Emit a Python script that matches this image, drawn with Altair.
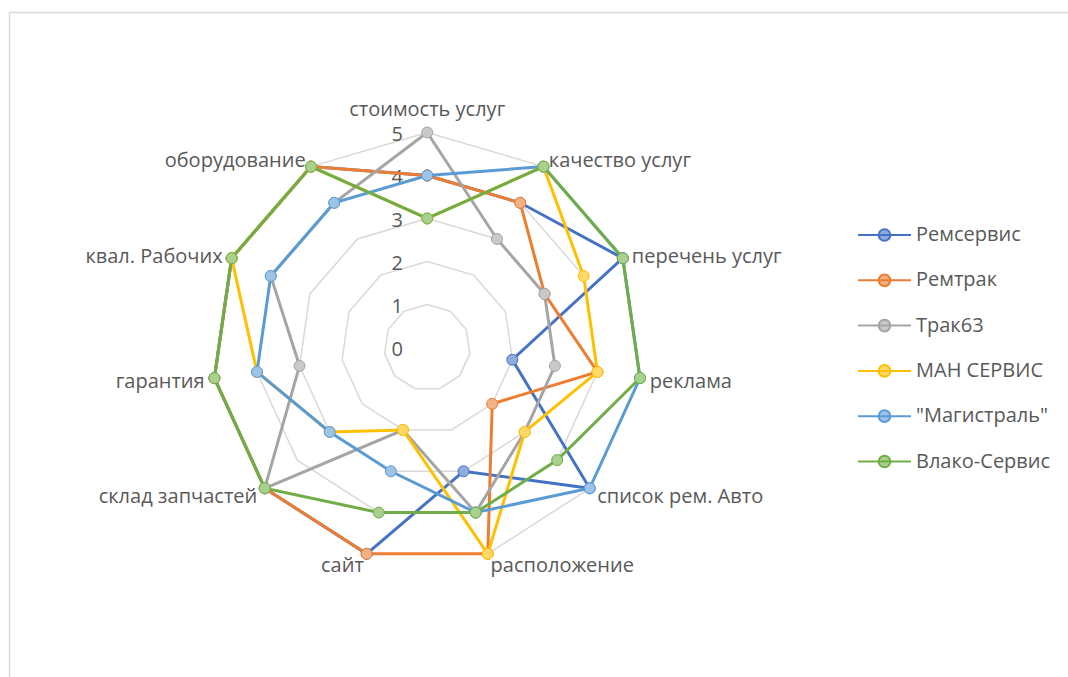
import altair as alt
import pandas as pd

# ---------------- data ----------------
categories = ["стоимость услуг", "качество услуг", "перечень услуг", "реклама",
              "список рем. Авто", "расположение", "сайт", "склад запчастей",
              "гарантия", "квал. Рабочих", "оборудование"]
series_names = ["Ремсервис", "Ремтрак", "Трак63", "МАН СЕРВИС", "\"Магистраль\"", "Влако-Сервис"]
remservis = [4, 4, 5, 2, 5, 3, 5, 5, 5, 5, 5]
remtrak   = [4, 4, 3, 4, 2, 5, 5, 5, 5, 5, 5]
trak63    = [5, 3, 3, 3, 3, 4, 2, 5, 3, 4, 4]
man_servis = [3, 5, 4, 4, 3, 5, 2, 3, 4, 5, 5]
magistral = [4, 5, 5, 5, 5, 4, 3, 3, 4, 4, 4]
vlako     = [3, 5, 5, 5, 4, 4, 4, 5, 5, 5, 5]
series_values = [remservis, remtrak, trak63, man_servis, magistral, vlako]
grid_levels = [1, 2, 3, 4, 5]
tick_labels = ["0", "1", "2", "3", "4", "5"]
tick_values = [0, 1, 2, 3, 4, 5]
label_radius = 5.23

line_colors = ["#4472C4", "#ED7D31", "#A5A5A5", "#FFC000", "#5B9BD5", "#70AD47"]
marker_fills = ["#8FAADC", "#F4B183", "#C9C9C9", "#FFD966", "#9DC3E6", "#A9D18E"]

N = len(categories)

rows = []
for s_i, (name, vals) in enumerate(zip(series_names, series_values)):
    for k in range(N + 1):
        rows.append({"series": name, "s": s_i, "idx": k, "value": vals[k % N]})
series_df = pd.DataFrame(rows)

grid_df = pd.DataFrame([{"level": lv, "idx": k, "value": lv}
                        for lv in grid_levels for k in range(N + 1)])
tick_df = pd.DataFrame({"label": tick_labels, "value": tick_values})
cat_df = pd.DataFrame({"cat": categories, "idx": list(range(N)),
                       "value": [label_radius] * N})

# ---------------- layout ----------------
W, H = 1068, 677
FONT = "Open Sans"
TXT = "#595959"

xscale = alt.Scale(domain=[-9.935, 14.902], nice=False, zero=False)
yscale = alt.Scale(domain=[-7.663, 8.081], nice=False, zero=False)

theta = f"datum.idx * 2 * PI / {N}"


def polar(ch):
    return ch.transform_calculate(theta=theta).transform_calculate(
        px="datum.value * sin(datum.theta)",
        py="datum.value * cos(datum.theta)")


X = alt.X("px:Q", scale=xscale, axis=None)
Y = alt.Y("py:Q", scale=yscale, axis=None)

stroke_scale = alt.Scale(domain=series_names, range=line_colors)
fill_scale = alt.Scale(domain=series_names, range=marker_fills)

SYMBOL = "M-1,0L1,0M0.22,0A0.22,0.22,0,1,1,-0.22,0A0.22,0.22,0,1,1,0.22,0Z"
leg = dict(orient="none", legendX=857, legendY=225, title=None,
           symbolType=SYMBOL, symbolSize=2809, symbolStrokeWidth=2,
           symbolOpacity=1, labelFont=FONT, labelFontSize=20, labelColor=TXT,
           labelOffset=4, rowPadding=25.3, clipHeight=20, padding=0)

grid = polar(alt.Chart(grid_df)).mark_line(
    color="#D9D9D9", strokeWidth=1.5).encode(
    x=X, y=Y, detail="level:N", order="idx:Q")

lines = polar(alt.Chart(series_df)).mark_line(strokeWidth=3).encode(
    x=X, y=Y,
    stroke=alt.Stroke("series:N", scale=stroke_scale, legend=alt.Legend(**leg)),
    order="idx:Q")

points = polar(alt.Chart(series_df)).transform_filter(
    f"datum.idx < {N}").mark_point(filled=True, size=121, strokeWidth=1, opacity=1).encode(
    x=X, y=Y,
    stroke=alt.Stroke("series:N", scale=stroke_scale, legend=alt.Legend(**leg)),
    fill=alt.Fill("series:N", scale=fill_scale, legend=alt.Legend(**leg)))

ticks = alt.Chart(tick_df).transform_calculate(px="0", py="datum.value").mark_text(
    font=FONT, fontSize=20, color=TXT, align="center", baseline="alphabetic",
    dx=-30, dy=9).encode(x=X, y=Y, text="label:N")

cat_base = polar(alt.Chart(cat_df))
cat_top = cat_base.transform_filter("datum.idx == 0").mark_text(
    font=FONT, fontSize=20, color=TXT, align="center", baseline="alphabetic",
    dy=-6.7).encode(x=X, y=Y, text="cat:N")
cat_right = cat_base.transform_filter(f"datum.idx > 0 && datum.idx <= {N // 2}").mark_text(
    font=FONT, fontSize=20, color=TXT, align="left", baseline="alphabetic",
    dy=8.5).encode(x=X, y=Y, text="cat:N")
cat_left = cat_base.transform_filter(f"datum.idx > {N // 2}").mark_text(
    font=FONT, fontSize=20, color=TXT, align="right", baseline="alphabetic",
    dy=8.5).encode(x=X, y=Y, text="cat:N")

one = pd.DataFrame({"a": [0]})
border_top = alt.Chart(one).mark_rule(color="#D9D9D9", strokeWidth=1.5).encode(
    x=alt.value(9.5), x2=alt.value(W), y=alt.value(12.5))
border_left = alt.Chart(one).mark_rule(color="#D9D9D9", strokeWidth=1.5).encode(
    x=alt.value(9.5), y=alt.value(12.5), y2=alt.value(H))

chart = alt.layer(border_top, border_left, grid, ticks, lines, points,
                  cat_top, cat_right, cat_left).properties(
    width=W, height=H, padding=0,
    autosize=alt.AutoSizeParams(type="none"),
    background="white",
).configure_view(stroke=None)

chart.save("out.html", embed_options={"renderer": "svg", "actions": False})
